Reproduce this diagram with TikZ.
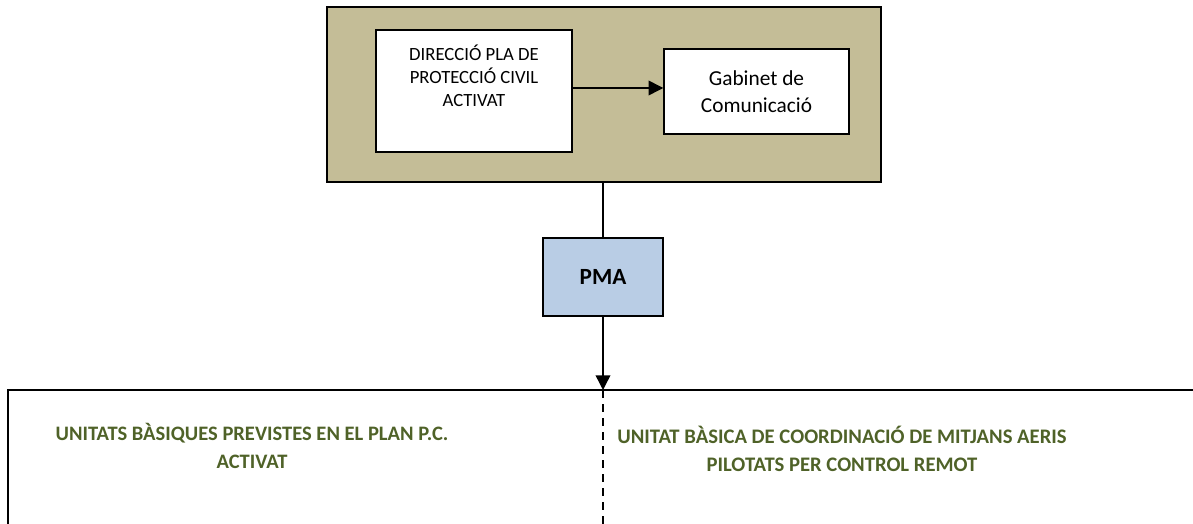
\documentclass[tikz,border=0pt]{standalone}
\usepackage{fontspec}
\setmainfont{Carlito}
\usepackage{xcolor}
\usetikzlibrary{positioning,calc,arrows.meta}

\definecolor{tanbox}{HTML}{C4BD97}
\definecolor{pmablue}{HTML}{B9CDE5}
\definecolor{unitgreen}{HTML}{4F6228}

\begin{document}
\begin{tikzpicture}[x=0.75pt, y=-0.75pt,
    frame/.style={draw, line width=1.2pt, fill=tanbox, minimum width=415.5pt, minimum height=131.25pt},
    unit/.style={draw, line width=1.1pt, fill=white, inner sep=0pt},
    tip/.style={-{Triangle[length=11pt,width=11pt]}, line width=1.1pt},
    unitxt/.style={align=center, text=unitgreen, font=\fontsize{15.4}{20.5}\selectfont\bfseries}
]
    \useasboundingbox (0,0) rectangle (1193,524);

    % Top block
    \node [frame] (frame) at (604,94.5) {};
    \node [unit, minimum width=147pt, minimum height=91.5pt] (dir) at (474,91) {};
    \node [align=center, font=\fontsize{14}{17.3}\selectfont] at (474,76) {DIRECCIÓ PLA DE\\PROTECCIÓ CIVIL\\ACTIVAT};
    \node [unit, minimum width=138.75pt, minimum height=63.75pt, align=center,
           font=\fontsize{16}{20.5}\selectfont] (gab) at (756.5,91.5) {Gabinet de\\Comunicació};
    \draw [tip] ([yshift=2.25pt]dir.east) -- ([yshift=2.25pt]dir.east -| gab.west);

    % PMA
    \node [unit, fill=pmablue, minimum width=90pt, minimum height=58.5pt, text depth=0pt,
           font=\fontsize{17.4}{20}\selectfont\bfseries] (pma) at (603,277) {PMA};
    \draw [line width=1.1pt] (frame.south -| pma.north) -- (pma.north);

    % Units
    \coordinate (split) at (603,390);
    \coordinate (splitend) at (603,524);
    \draw [tip] (pma.south) -- (split);
    \draw [line width=1.3pt] (8,524) -- (8,390) -- (1193,390);
    \draw [dashed, line width=1pt, dash pattern=on 6pt off 4.5pt] (split) -- (splitend);

    \node [unitxt] (basic) at (252,446) {UNITATS BÀSIQUES PREVISTES EN EL PLAN P.C.\\ACTIVAT};
    \node [unitxt, font=\fontsize{15.5}{21}\selectfont\bfseries] (drone) at (842,449) {UNITAT BÀSICA DE COORDINACIÓ DE MITJANS AERIS\\PILOTATS PER CONTROL REMOT};

\end{tikzpicture}
\end{document}
